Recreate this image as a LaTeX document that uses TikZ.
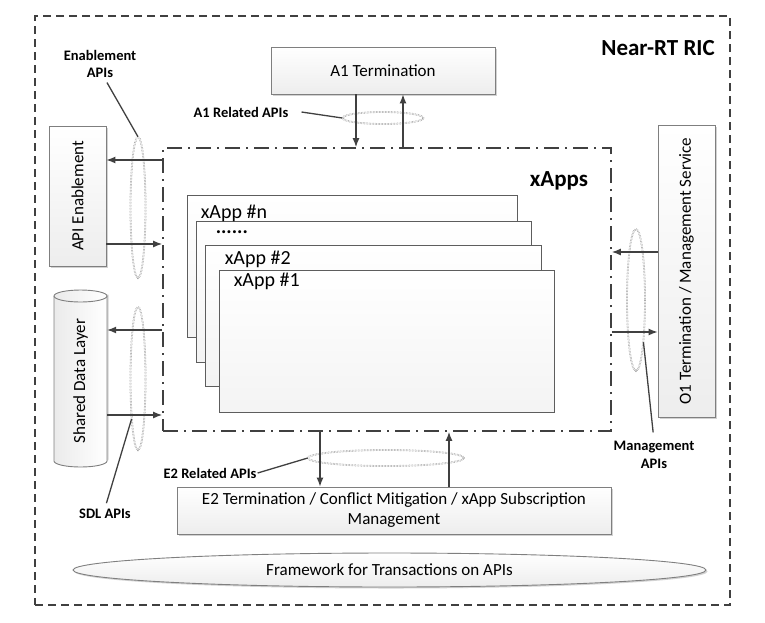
\documentclass[tikz,border=0pt]{standalone}
\usepackage{fontspec}
\setmainfont{Carlito}
\usepackage{tikz}
\usetikzlibrary{arrows.meta}
\usetikzlibrary{shapes.geometric}
\usetikzlibrary{shadows}
\definecolor{linegray}{HTML}{404040}
\definecolor{boxgray}{HTML}{7F7F7F}
\tikzset{
  box/.style={draw=boxgray,line width=0.9pt,top color=white,bottom color=gray!14,inner sep=0pt,
    drop shadow={shadow xshift=1.5pt,shadow yshift=-1.5pt,fill=gray!70,opacity=0.5},
    font=\fontsize{17}{20}\selectfont},
  appbox/.style={draw=linegray!85,line width=0.8pt,top color=white,bottom color=gray!9,inner sep=0pt},
  applbl/.style={anchor=base west,inner sep=0pt,text depth=0pt,font=\fontsize{20}{24}\selectfont},
  apiell/.style={ellipse,draw=gray,densely dotted,line width=0.5pt,double=white,double distance=0.8pt,inner sep=0pt},
  lbl/.style={align=center,inner sep=1pt,font=\bfseries\fontsize{14.5}{17.5}\selectfont},
  lead/.style={draw=linegray,line width=1.3pt},
  arr/.style={draw=linegray,line width=1.2pt,-{Latex[length=9pt,width=7pt]}}
}
\begin{document}
\begin{tikzpicture}[x=1pt,y=-1pt]
\useasboundingbox (0,0) rectangle (765,622);
% Near-RT RIC frame
\node[draw=linegray,line width=1.6pt,dash pattern=on 8pt off 5pt,minimum width=695,minimum height=589,inner sep=0pt] (ric) at (382.5,310.5) {};
\node[lbl,anchor=east,font=\bfseries\fontsize{23}{27}\selectfont] (riclbl) at (716,48) {Near-RT RIC};
% xApps frame
\node[draw=linegray,line width=1.8pt,dash pattern=on 15pt off 6pt on 2pt off 6pt,minimum width=448,minimum height=283,inner sep=0pt] (xapps) at (387,289.5) {};
\node[lbl,font=\bfseries\fontsize{23}{27}\selectfont] (xappslbl) at (559,181) {xApps};
\node[appbox,minimum width=330,minimum height=142] (appn) at (352,266) {};
\node[appbox,minimum width=335,minimum height=141] (appd) at (363.5,291.5) {};
\node[appbox,minimum width=336,minimum height=141] (app2) at (373,315.5) {};
\node[appbox,minimum width=335,minimum height=142] (app1) at (386.5,341) {};
\node[applbl] (lbln) at ([shift={(14,24)}]appn.north west) {xApp \#n};
\node[applbl,text height=4pt,font=\bfseries\fontsize{20}{24}\selectfont] (lbld) at ([shift={(20,12.5)}]appd.north west) {......};
\node[applbl] (lbl2) at ([shift={(20,20)}]app2.north west) {xApp \#2};
\node[applbl] (lbl1) at ([shift={(15,17)}]app1.north west) {xApp \#1};
% other blocks
\node[box,minimum width=224,minimum height=47] (a1) at (383,70.5) {A1 Termination};
\node[box,rotate=90,minimum width=140,minimum height=57] (apien) at (77.5,196) {API Enablement};
% shared data layer drum
\fill[gray!70,opacity=0.5] (55.5,294.5) -- (55.5,459.5) arc[start angle=180,end angle=0,x radius=26.5,y radius=6] -- (108.5,294.5) -- cycle;
\draw[draw=boxgray,line width=0.9pt,left color=gray!16,right color=white] (54,296) -- (54,461) arc[start angle=180,end angle=0,x radius=26.5,y radius=6]
  -- (107,296) arc[start angle=0,end angle=-180,x radius=26.5,y radius=6] -- cycle;
\draw[draw=boxgray,line width=0.9pt] (54,296) arc[start angle=180,end angle=0,x radius=26.5,y radius=6];
\node[rotate=90,minimum width=177,minimum height=53,inner sep=0pt,font=\fontsize{17}{20}\selectfont] (sdl) at (80.5,381) {Shared Data Layer};
\node[box,rotate=90,minimum width=292,minimum height=57] (o1) at (686.5,271) {O1 Termination / Management Service};
\node[box,minimum width=434,minimum height=47,align=center] (e2) at (394,510.5) {E2 Termination / Conflict Mitigation / xApp Subscription\\Management};
\node[ellipse,draw=boxgray,line width=0.9pt,top color=white,bottom color=gray!14,minimum width=633,minimum height=34,inner sep=0pt,
  drop shadow={shadow xshift=1.5pt,shadow yshift=-1.5pt,fill=gray!70,opacity=0.5},font=\fontsize{17}{20}\selectfont] (fw) at (389.5,570) {Framework for Transactions on APIs};
% API groups
\node[apiell,minimum width=81,minimum height=12] (a1ell) at (383,118) {};
\node[apiell,minimum width=15,minimum height=141] (enell) at (138,207.5) {};
\node[apiell,minimum width=15,minimum height=143] (sdlell) at (138,378.5) {};
\node[apiell,minimum width=18,minimum height=142] (mgell) at (636,300) {};
\node[apiell,minimum width=156,minimum height=16] (e2ell) at (386,458) {};
\node[lbl] (enlbl) at (100,64) {Enablement\\APIs};
\node[lbl] (a1lbl) at (241,112) {A1 Related APIs};
\node[lbl] (sdllbl) at (105,514) {SDL APIs};
\node[lbl] (e2lbl) at (210,473) {E2 Related APIs};
\node[lbl] (mglbl) at (654,455) {Management\\APIs};
\draw[lead,shorten <=4pt] ([xshift=5]enlbl.south) -- (enell.north);
\draw[lead] ([xshift=12]a1lbl.east) -- (a1ell.west);
\draw[lead,shorten <=5pt] (sdllbl.north) -- (sdlell.-99);
\draw[lead] (e2lbl.east) -- (e2ell.west);
\draw[lead,shorten <=8pt] (mglbl.north) -- (mgell.-80);
% interfaces
\path (a1.south) ++(-27,0) coordinate (a1A) ++(47,0) coordinate (a1B);
\draw[arr] (a1A) -- (a1A |- xapps.north);
\draw[arr] (a1B |- xapps.north) -- (a1B);
\path (e2.north) ++(-74,0) coordinate (e2A) ++(129,0) coordinate (e2B);
\draw[arr] (e2A |- xapps.south) -- (e2A);
\draw[arr] (e2B) -- (e2B |- xapps.south);
\path (apien.south) ++(0,-36) coordinate (apA) ++(0,84) coordinate (apB);
\draw[arr] (apA -| xapps.west) -- (apA);
\draw[arr] (apB) -- (apB -| xapps.west);
\path (sdl.south) ++(0,-51) coordinate (sdA) ++(0,85) coordinate (sdB);
\draw[arr] (sdA -| xapps.west) -- (sdA);
\draw[arr] (sdB) -- (sdB -| xapps.west);
\path (o1.north) ++(0,-19) coordinate (oA) ++(0,80) coordinate (oB);
\draw[arr] (oA) -- (oA -| xapps.east);
\draw[arr] (oB -| xapps.east) -- (oB);
\end{tikzpicture}
\end{document}
